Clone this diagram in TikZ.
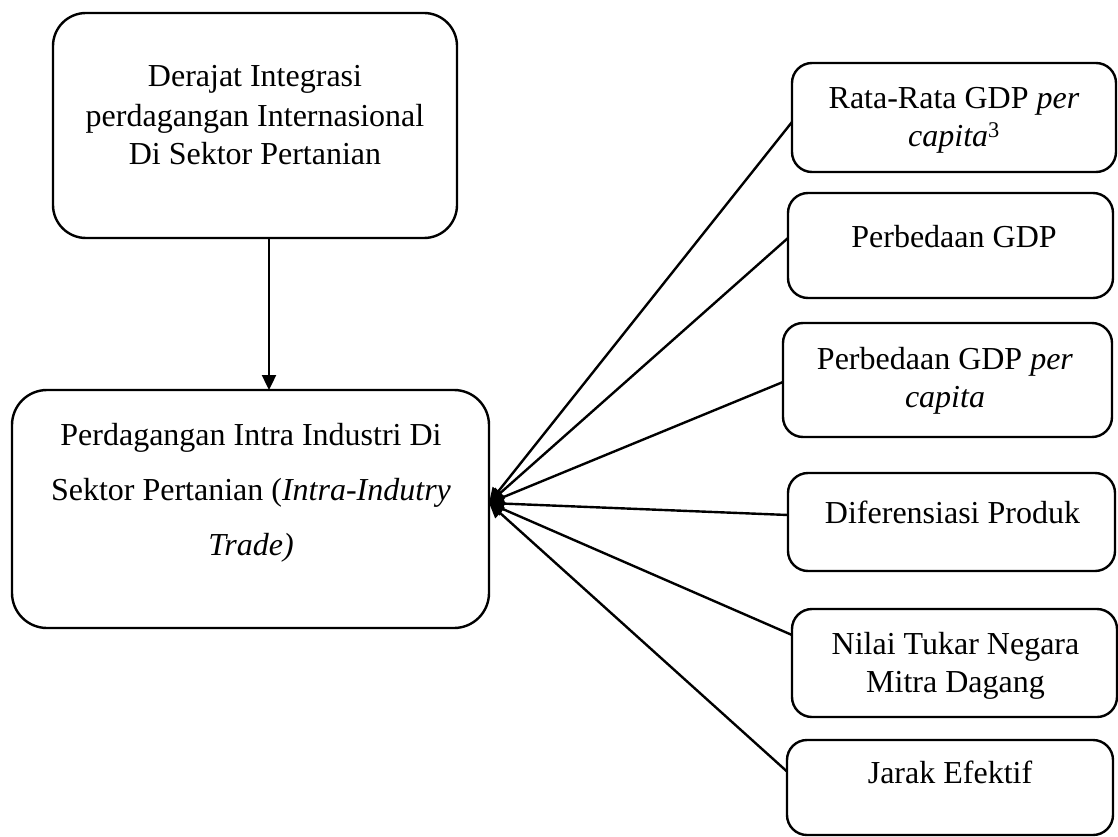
\documentclass[tikz,border=0pt]{standalone}
\usepackage{fontspec}
\setmainfont{Liberation Serif}
\usetikzlibrary{arrows.meta}
\begin{document}
\begin{tikzpicture}[x=1pt,y=-1pt,
  box/.style={draw, line width=2.4pt, inner sep=0pt, outer sep=0pt, rounded corners=#1},
  box/.default=20pt,
  txt/.style={anchor=base, align=center, inner sep=0pt, font=\fontsize{32}{38}\selectfont},
  conn/.style={line width=2.4pt, -{Triangle[length=15pt,width=14pt]}}
]
\useasboundingbox (0,0) rectangle (1118,837);
% main boxes
\node[box=33pt, minimum width=404pt, minimum height=225pt] (T) at (255,125.5) {};
\node[box=35pt, minimum width=477pt, minimum height=238pt] (M) at (250.5,509) {};
% right boxes
\node[box, minimum width=324pt, minimum height=109pt] (b1) at (954,117.5) {};
\node[box, minimum width=325pt, minimum height=105pt] (b2) at (950.5,245.5) {};
\node[box, minimum width=329pt, minimum height=114pt] (b3) at (947.5,380) {};
\node[box, minimum width=327pt, minimum height=98pt] (b4) at (951.5,522) {};
\node[box, minimum width=325pt, minimum height=108pt] (b5) at (954.5,663) {};
\node[box, minimum width=326pt, minimum height=95pt] (b6) at (950,787.5) {};
% texts (anchor=base is the baseline of the last line)
\node[txt, font=\fontsize{32}{39}\selectfont] (tT) at (255,165) {Derajat Integrasi\\perdagangan Internasional\\Di Sektor Pertanian};
\node[txt, font=\fontsize{32}{55}\selectfont] (tM) at (251,555) {Perdagangan Intra Industri Di\\Sektor Pertanian (\textit{Intra-Indutry}\\\textit{Trade)}};
\node[txt] (t1) at (954,147) {Rata-Rata GDP \textit{per}\\\textit{capita}\textsuperscript{3}};
\node[txt] (t2) at (954,247) {Perbedaan GDP};
\node[txt] (t3) at (945,407) {Perbedaan GDP \textit{per}\\\textit{capita}};
\node[txt] (t4) at (952.5,523) {Diferensiasi Produk};
\node[txt] (t5) at (955.5,692) {Nilai Tukar Negara\\Mitra Dagang};
\node[txt] (t6) at (950,783) {Jarak Efektif};
% connectors
\coordinate (ax) at (269,0);
\draw[conn] (T.south -| ax) -- (M.north -| ax);
\coordinate (hub) at ([yshift=6pt]M.east);
\draw[conn] ([yshift=-4.5pt]b1.west) -- (hub);
\draw[conn] ([yshift=7.5pt]b2.west) -- (hub);
\draw[conn] ([yshift=-2pt]b3.west) -- (hub);
\draw[conn] ([yshift=7pt]b4.west) -- (hub);
\draw[conn] ([yshift=28pt]b5.west) -- (hub);
\draw[conn] ([yshift=16pt]b6.west) -- (hub);
\end{tikzpicture}
\end{document}
